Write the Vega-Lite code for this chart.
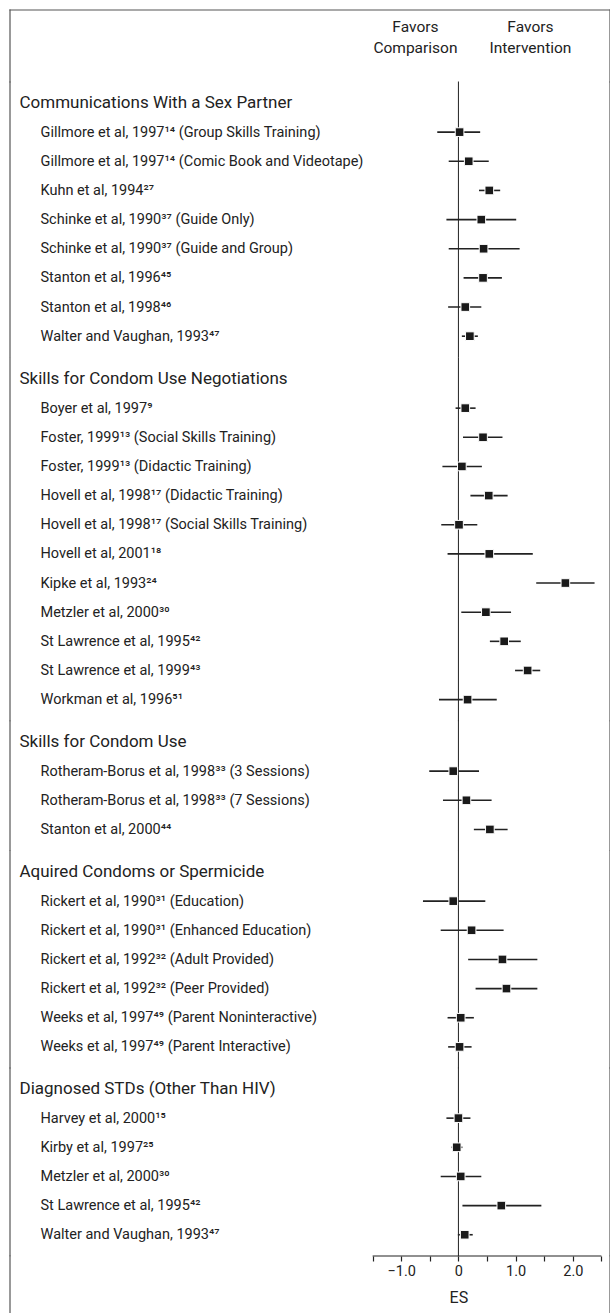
{
  "$schema": "https://vega.github.io/schema/vega-lite/v6.json",
  "padding": {"left": 9, "top": 9, "right": 1, "bottom": 0},
  "background": "white",
  "spacing": 0,
  "bounds": "flush",
  "config": {"view": {"stroke": null}, "font": "Roboto"},
  "resolve": {"scale": {"x": "independent", "y": "independent"}},
  "datasets": {
    "studies": [
      {"group": 1, "label": "Communications With a Sex Partner"},
      {"group": 1, "label": "Gillmore et al, 1997¹⁴ (Group Skills Training)", "es": 0.02, "lo": -0.37, "hi": 0.38},
      {"group": 1, "label": "Gillmore et al, 1997¹⁴ (Comic Book and Videotape)", "es": 0.18, "lo": -0.17, "hi": 0.53},
      {"group": 1, "label": "Kuhn et al, 1994²⁷", "es": 0.54, "lo": 0.36, "hi": 0.73},
      {"group": 1, "label": "Schinke et al, 1990³⁷ (Guide Only)", "es": 0.40, "lo": -0.21, "hi": 1.01},
      {"group": 1, "label": "Schinke et al, 1990³⁷ (Guide and Group)", "es": 0.44, "lo": -0.17, "hi": 1.07},
      {"group": 1, "label": "Stanton et al, 1996⁴⁵", "es": 0.43, "lo": 0.09, "hi": 0.76},
      {"group": 1, "label": "Stanton et al, 1998⁴⁶", "es": 0.12, "lo": -0.18, "hi": 0.40},
      {"group": 1, "label": "Walter and Vaughan, 1993⁴⁷", "es": 0.20, "lo": 0.06, "hi": 0.34},
      {"group": 2, "label": "Skills for Condom Use Negotiations"},
      {"group": 2, "label": "Boyer et al, 1997⁹", "es": 0.12, "lo": -0.05, "hi": 0.30},
      {"group": 2, "label": "Foster, 1999¹³ (Social Skills Training)", "es": 0.43, "lo": 0.08, "hi": 0.77},
      {"group": 2, "label": "Foster, 1999¹³ (Didactic Training)", "es": 0.06, "lo": -0.28, "hi": 0.41},
      {"group": 2, "label": "Hovell et al, 1998¹⁷ (Didactic Training)", "es": 0.53, "lo": 0.21, "hi": 0.86},
      {"group": 2, "label": "Hovell et al, 1998¹⁷ (Social Skills Training)", "es": 0.01, "lo": -0.30, "hi": 0.33},
      {"group": 2, "label": "Hovell et al, 2001¹⁸", "es": 0.54, "lo": -0.19, "hi": 1.30},
      {"group": 2, "label": "Kipke et al, 1993²⁴", "es": 1.87, "lo": 1.36, "hi": 2.38},
      {"group": 2, "label": "Metzler et al, 2000³⁰", "es": 0.48, "lo": 0.05, "hi": 0.92},
      {"group": 2, "label": "St Lawrence et al, 1995⁴²", "es": 0.80, "lo": 0.55, "hi": 1.09},
      {"group": 2, "label": "St Lawrence et al, 1999⁴³", "es": 1.21, "lo": 0.99, "hi": 1.43},
      {"group": 2, "label": "Workman et al, 1996⁵¹", "es": 0.16, "lo": -0.34, "hi": 0.67},
      {"group": 3, "label": "Skills for Condom Use"},
      {"group": 3, "label": "Rotheram-Borus et al, 1998³³ (3 Sessions)", "es": -0.09, "lo": -0.51, "hi": 0.36},
      {"group": 3, "label": "Rotheram-Borus et al, 1998³³ (7 Sessions)", "es": 0.14, "lo": -0.27, "hi": 0.58},
      {"group": 3, "label": "Stanton et al, 2000⁴⁴", "es": 0.55, "lo": 0.27, "hi": 0.86},
      {"group": 4, "label": "Aquired Condoms or Spermicide"},
      {"group": 4, "label": "Rickert et al, 1990³¹ (Education)", "es": -0.09, "lo": -0.62, "hi": 0.47},
      {"group": 4, "label": "Rickert et al, 1990³¹ (Enhanced Education)", "es": 0.23, "lo": -0.31, "hi": 0.79},
      {"group": 4, "label": "Rickert et al, 1992³² (Adult Provided)", "es": 0.77, "lo": 0.17, "hi": 1.38},
      {"group": 4, "label": "Rickert et al, 1992³² (Peer Provided)", "es": 0.84, "lo": 0.30, "hi": 1.38},
      {"group": 4, "label": "Weeks et al, 1997⁴⁹ (Parent Noninteractive)", "es": 0.04, "lo": -0.19, "hi": 0.27},
      {"group": 4, "label": "Weeks et al, 1997⁴⁹ (Parent Interactive)", "es": 0.02, "lo": -0.18, "hi": 0.23},
      {"group": 5, "label": "Diagnosed STDs (Other Than HIV)"},
      {"group": 5, "label": "Harvey et al, 2000¹⁵", "es": 0.00, "lo": -0.21, "hi": 0.21},
      {"group": 5, "label": "Kirby et al, 1997²⁵", "es": -0.03, "lo": -0.12, "hi": 0.07},
      {"group": 5, "label": "Metzler et al, 2000³⁰", "es": 0.04, "lo": -0.31, "hi": 0.40},
      {"group": 5, "label": "St Lawrence et al, 1995⁴²", "es": 0.75, "lo": 0.07, "hi": 1.45},
      {"group": 5, "label": "Walter and Vaughan, 1993⁴⁷", "es": 0.11, "lo": -0.01, "hi": 0.25}
    ]
  },
  "vconcat": [
    {
      "width": 600, "height": 72,
      "layer": [
        {"data": {"values": [{}]}, "mark": {"type": "rule", "color": "#555", "strokeWidth": 1.2, "strokeCap": "square"}, "encoding": {"y": {"value": 0}, "x": {"value": 0}, "x2": {"value": "width"}}},
        {"data": {"values": [{}]}, "mark": {"type": "rule", "color": "#555", "strokeWidth": 1.2, "strokeCap": "square"}, "encoding": {"x": {"value": 0}}},
        {"data": {"values": [{}]}, "mark": {"type": "rule", "color": "#555", "strokeWidth": 1.2, "strokeCap": "square"}, "encoding": {"x": {"value": "width"}}},
        {"data": {"values": [{}]}, "mark": {"type": "text", "align": "center", "baseline": "middle", "fontSize": 15.5, "lineHeight": 20.7, "dx": -43, "dy": -19, "color": "#222"}, "encoding": {"x": {"datum": 0, "type": "quantitative", "scale": {"domain": [-7.84, 2.65], "nice": false, "zero": false}, "axis": null}, "text": {"value": ["Favors", "Comparison"]}}},
        {"data": {"values": [{}]}, "mark": {"type": "text", "align": "center", "baseline": "middle", "fontSize": 15.5, "lineHeight": 20.7, "dx": 72, "dy": -19, "color": "#222"}, "encoding": {"x": {"datum": 0, "type": "quantitative", "axis": null}, "text": {"value": ["Favors", "Intervention"]}}}
      ]
    },
    {
      "height": {"step": 29.15}, "width": 600,
      "layer": [
        {"data": {"name": "studies"}, "transform": [{"filter": "datum.group == 1"}], "mark": {"type": "point", "opacity": 0}, "encoding": {"y": {"field": "label", "type": "nominal", "sort": null, "scale": {"type": "point", "padding": 0.72}, "axis": {"title": null, "domain": false, "ticks": false, "grid": false, "labelAlign": "left", "labelBaseline": "middle", "labelLimit": 0, "labelOverlap": false, "labelColor": "#222", "labelFontSize": {"condition": {"test": "datum.index == 0", "value": 17}, "value": 14.5}, "labelPadding": {"condition": {"test": "datum.index == 0", "value": -9}, "value": -30}}}, "x": {"datum": 0, "type": "quantitative", "scale": {"domain": [-7.84, 2.65], "nice": false, "zero": false}, "axis": null}}},
        {"data": {"values": [{}]}, "mark": {"type": "rule", "color": "#222", "strokeWidth": 1, "strokeCap": "square"}, "encoding": {"x": {"datum": 0, "type": "quantitative", "axis": null}}},
        {"data": {"name": "studies"}, "transform": [{"filter": "datum.group == 1"}], "mark": {"type": "rule", "color": "#222", "strokeWidth": 1.6}, "encoding": {"y": {"field": "label", "type": "nominal", "sort": null}, "x": {"field": "lo", "type": "quantitative", "axis": null}, "x2": {"field": "hi"}}},
        {"data": {"name": "studies"}, "transform": [{"filter": "datum.group == 1"}], "mark": {"type": "square", "size": 75, "color": "#1a1a1a", "filled": true, "opacity": 1, "stroke": "white", "strokeWidth": 1}, "encoding": {"y": {"field": "label", "type": "nominal", "sort": null}, "x": {"field": "es", "type": "quantitative", "axis": null}}},
        {"data": {"values": [{}]}, "mark": {"type": "rule", "color": "#555", "strokeWidth": 1.2, "strokeCap": "square"}, "encoding": {"x": {"value": 0}}},
        {"data": {"values": [{}]}, "mark": {"type": "rule", "color": "#555", "strokeWidth": 1.2, "strokeCap": "square"}, "encoding": {"x": {"value": "width"}}}
      ]
    },
    {
      "height": {"step": 29.15}, "width": 600,
      "layer": [
        {"data": {"name": "studies"}, "transform": [{"filter": "datum.group == 2"}], "mark": {"type": "point", "opacity": 0}, "encoding": {"y": {"field": "label", "type": "nominal", "sort": null, "scale": {"type": "point", "padding": 0.72}, "axis": {"title": null, "domain": false, "ticks": false, "grid": false, "labelAlign": "left", "labelBaseline": "middle", "labelLimit": 0, "labelOverlap": false, "labelColor": "#222", "labelFontSize": {"condition": {"test": "datum.index == 0", "value": 17}, "value": 14.5}, "labelPadding": {"condition": {"test": "datum.index == 0", "value": -9}, "value": -30}}}, "x": {"datum": 0, "type": "quantitative", "scale": {"domain": [-7.84, 2.65], "nice": false, "zero": false}, "axis": null}}},
        {"data": {"values": [{}]}, "mark": {"type": "rule", "color": "#222", "strokeWidth": 1, "strokeCap": "square"}, "encoding": {"x": {"datum": 0, "type": "quantitative", "axis": null}}},
        {"data": {"name": "studies"}, "transform": [{"filter": "datum.group == 2"}], "mark": {"type": "rule", "color": "#222", "strokeWidth": 1.6}, "encoding": {"y": {"field": "label", "type": "nominal", "sort": null}, "x": {"field": "lo", "type": "quantitative", "axis": null}, "x2": {"field": "hi"}}},
        {"data": {"name": "studies"}, "transform": [{"filter": "datum.group == 2"}], "mark": {"type": "square", "size": 75, "color": "#1a1a1a", "filled": true, "opacity": 1, "stroke": "white", "strokeWidth": 1}, "encoding": {"y": {"field": "label", "type": "nominal", "sort": null}, "x": {"field": "es", "type": "quantitative", "axis": null}}},
        {"data": {"values": [{}]}, "mark": {"type": "rule", "color": "#555", "strokeWidth": 1.2, "strokeCap": "square"}, "encoding": {"x": {"value": 0}}},
        {"data": {"values": [{}]}, "mark": {"type": "rule", "color": "#555", "strokeWidth": 1.2, "strokeCap": "square"}, "encoding": {"x": {"value": "width"}}}
      ]
    },
    {
      "height": {"step": 29.15}, "width": 600,
      "layer": [
        {"data": {"name": "studies"}, "transform": [{"filter": "datum.group == 3"}], "mark": {"type": "point", "opacity": 0}, "encoding": {"y": {"field": "label", "type": "nominal", "sort": null, "scale": {"type": "point", "padding": 0.72}, "axis": {"title": null, "domain": false, "ticks": false, "grid": false, "labelAlign": "left", "labelBaseline": "middle", "labelLimit": 0, "labelOverlap": false, "labelColor": "#222", "labelFontSize": {"condition": {"test": "datum.index == 0", "value": 17}, "value": 14.5}, "labelPadding": {"condition": {"test": "datum.index == 0", "value": -9}, "value": -30}}}, "x": {"datum": 0, "type": "quantitative", "scale": {"domain": [-7.84, 2.65], "nice": false, "zero": false}, "axis": null}}},
        {"data": {"values": [{}]}, "mark": {"type": "rule", "color": "#222", "strokeWidth": 1, "strokeCap": "square"}, "encoding": {"x": {"datum": 0, "type": "quantitative", "axis": null}}},
        {"data": {"name": "studies"}, "transform": [{"filter": "datum.group == 3"}], "mark": {"type": "rule", "color": "#222", "strokeWidth": 1.6}, "encoding": {"y": {"field": "label", "type": "nominal", "sort": null}, "x": {"field": "lo", "type": "quantitative", "axis": null}, "x2": {"field": "hi"}}},
        {"data": {"name": "studies"}, "transform": [{"filter": "datum.group == 3"}], "mark": {"type": "square", "size": 75, "color": "#1a1a1a", "filled": true, "opacity": 1, "stroke": "white", "strokeWidth": 1}, "encoding": {"y": {"field": "label", "type": "nominal", "sort": null}, "x": {"field": "es", "type": "quantitative", "axis": null}}},
        {"data": {"values": [{}]}, "mark": {"type": "rule", "color": "#555", "strokeWidth": 1.2, "strokeCap": "square"}, "encoding": {"x": {"value": 0}}},
        {"data": {"values": [{}]}, "mark": {"type": "rule", "color": "#555", "strokeWidth": 1.2, "strokeCap": "square"}, "encoding": {"x": {"value": "width"}}}
      ]
    },
    {
      "height": {"step": 29.15}, "width": 600,
      "layer": [
        {"data": {"name": "studies"}, "transform": [{"filter": "datum.group == 4"}], "mark": {"type": "point", "opacity": 0}, "encoding": {"y": {"field": "label", "type": "nominal", "sort": null, "scale": {"type": "point", "padding": 0.72}, "axis": {"title": null, "domain": false, "ticks": false, "grid": false, "labelAlign": "left", "labelBaseline": "middle", "labelLimit": 0, "labelOverlap": false, "labelColor": "#222", "labelFontSize": {"condition": {"test": "datum.index == 0", "value": 17}, "value": 14.5}, "labelPadding": {"condition": {"test": "datum.index == 0", "value": -9}, "value": -30}}}, "x": {"datum": 0, "type": "quantitative", "scale": {"domain": [-7.84, 2.65], "nice": false, "zero": false}, "axis": null}}},
        {"data": {"values": [{}]}, "mark": {"type": "rule", "color": "#222", "strokeWidth": 1, "strokeCap": "square"}, "encoding": {"x": {"datum": 0, "type": "quantitative", "axis": null}}},
        {"data": {"name": "studies"}, "transform": [{"filter": "datum.group == 4"}], "mark": {"type": "rule", "color": "#222", "strokeWidth": 1.6}, "encoding": {"y": {"field": "label", "type": "nominal", "sort": null}, "x": {"field": "lo", "type": "quantitative", "axis": null}, "x2": {"field": "hi"}}},
        {"data": {"name": "studies"}, "transform": [{"filter": "datum.group == 4"}], "mark": {"type": "square", "size": 75, "color": "#1a1a1a", "filled": true, "opacity": 1, "stroke": "white", "strokeWidth": 1}, "encoding": {"y": {"field": "label", "type": "nominal", "sort": null}, "x": {"field": "es", "type": "quantitative", "axis": null}}},
        {"data": {"values": [{}]}, "mark": {"type": "rule", "color": "#555", "strokeWidth": 1.2, "strokeCap": "square"}, "encoding": {"x": {"value": 0}}},
        {"data": {"values": [{}]}, "mark": {"type": "rule", "color": "#555", "strokeWidth": 1.2, "strokeCap": "square"}, "encoding": {"x": {"value": "width"}}}
      ]
    },
    {
      "height": {"step": 29.15}, "width": 600,
      "layer": [
        {"data": {"name": "studies"}, "transform": [{"filter": "datum.group == 5"}], "mark": {"type": "point", "opacity": 0}, "encoding": {"y": {"field": "label", "type": "nominal", "sort": null, "scale": {"type": "point", "padding": 0.72}, "axis": {"title": null, "domain": false, "ticks": false, "grid": false, "labelAlign": "left", "labelBaseline": "middle", "labelLimit": 0, "labelOverlap": false, "labelColor": "#222", "labelFontSize": {"condition": {"test": "datum.index == 0", "value": 17}, "value": 14.5}, "labelPadding": {"condition": {"test": "datum.index == 0", "value": -9}, "value": -30}}}, "x": {"datum": 0, "type": "quantitative", "scale": {"domain": [-7.84, 2.65], "nice": false, "zero": false}, "axis": null}}},
        {"data": {"values": [{}]}, "mark": {"type": "rule", "color": "#222", "strokeWidth": 1, "strokeCap": "square"}, "encoding": {"x": {"datum": 0, "type": "quantitative", "axis": null}}},
        {"data": {"name": "studies"}, "transform": [{"filter": "datum.group == 5"}], "mark": {"type": "rule", "color": "#222", "strokeWidth": 1.6}, "encoding": {"y": {"field": "label", "type": "nominal", "sort": null}, "x": {"field": "lo", "type": "quantitative", "axis": null}, "x2": {"field": "hi"}}},
        {"data": {"name": "studies"}, "transform": [{"filter": "datum.group == 5"}], "mark": {"type": "square", "size": 75, "color": "#1a1a1a", "filled": true, "opacity": 1, "stroke": "white", "strokeWidth": 1}, "encoding": {"y": {"field": "label", "type": "nominal", "sort": null}, "x": {"field": "es", "type": "quantitative", "axis": null}}},
        {"data": {"values": [{}]}, "mark": {"type": "rule", "color": "#555", "strokeWidth": 1.2, "strokeCap": "square"}, "encoding": {"x": {"value": 0}}},
        {"data": {"values": [{}]}, "mark": {"type": "rule", "color": "#555", "strokeWidth": 1.2, "strokeCap": "square"}, "encoding": {"x": {"value": "width"}}}
      ]
    },
    {
      "width": 600, "height": 62,
      "layer": [
        {"data": {"values": [{}]}, "mark": {"type": "rule", "color": "#222", "strokeWidth": 1.2}, "encoding": {"x": {"datum": -1.5, "type": "quantitative", "scale": {"domain": [-7.84, 2.65], "nice": false, "zero": false}, "axis": {"orient": "bottom", "offset": -62, "values": [-1.5, -1, -0.5, 0, 0.5, 1, 1.5, 2, 2.5], "domain": false, "ticks": true, "tickSize": 5, "tickColor": "#222", "tickWidth": 1.2, "grid": false, "labelExpr": "datum.value == 0 ? '0' : (abs(datum.value) % 1 == 0 ? (datum.value < 0 ? '\u2212' : '') + format(abs(datum.value), '.1f') : '')", "labelFontSize": 14.5, "labelColor": "#222", "labelPadding": 3, "labelFlush": false, "labelOverlap": false, "title": "ES", "titleFontSize": 16, "titleFontWeight": "normal", "titleColor": "#222", "titleX": 448.4, "titlePadding": 12}}, "x2": {"datum": 2.5}, "y": {"value": 0}}},
        {"data": {"values": [{}]}, "mark": {"type": "rule", "color": "#555", "strokeWidth": 1.2, "strokeCap": "square"}, "encoding": {"x": {"value": 0}}},
        {"data": {"values": [{}]}, "mark": {"type": "rule", "color": "#555", "strokeWidth": 1.2, "strokeCap": "square"}, "encoding": {"x": {"value": "width"}}}
      ]
    }
  ]
}
